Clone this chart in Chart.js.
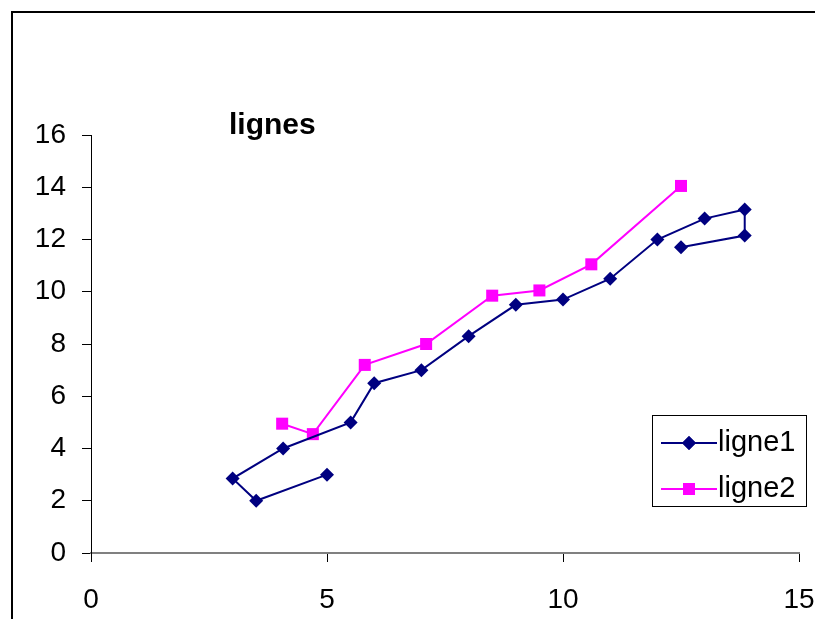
<!DOCTYPE html>
<html>
<head>
<meta charset="utf-8">
<script src="https://cdn.jsdelivr.net/npm/chart.js@4/dist/chart.umd.min.js"></script>
<style>
    html, body { margin: 0; padding: 0; background: #fff; overflow: hidden; }
    #wrap { position: relative; width: 815px; height: 619px; }
    #frame {
        position: absolute; left: 11px; top: 11px; width: 900px; height: 700px;
        border-left: 2px solid #000; border-top: 2px solid #000; box-sizing: border-box;
    }
    #chart { position: absolute; left: 0; top: 0; }
    #title {
        position: absolute; left: 229px; top: 107px;
        font: bold 30px "Liberation Sans", Arial, sans-serif; color: #000;
    }
    #legend {
        position: absolute; left: 652px; top: 415px; width: 155px; height: 92px;
        border: 1px solid #000; box-sizing: border-box; background: #fff;
        font: 29px "Liberation Sans", Arial, sans-serif; color: #000;
    }
    .row { position: absolute; left: 0; height: 30px; width: 100%; }
    .row canvas { position: absolute; left: 6px; top: 0; }
    .row span { position: absolute; left: 65px; top: -2px; line-height: 30px; }
</style>
</head>
<body>
<div id="wrap">
    <div id="frame"></div>
    <canvas id="chart" width="815" height="619"></canvas>
    <div id="title">lignes</div>
    <div id="legend">
        <div class="row" style="top:12px"><canvas id="lg1" width="60" height="30"></canvas><span>ligne1</span></div>
        <div class="row" style="top:58px"><canvas id="lg2" width="60" height="30"></canvas><span>ligne2</span></div>
    </div>
</div>
<script>
// series values
const ligne1X = [5, 3.5, 3, 4.07, 5.5, 6, 7, 8, 9, 10, 11, 12, 13, 13.85, 13.85, 12.5];
const ligne1Y = [3, 2, 2.85, 4, 5, 6.5, 7, 8.3, 9.5, 9.7, 10.5, 12, 12.8, 13.15, 12.15, 11.7];
const ligne2X = [4.05, 4.7, 5.8, 7.1, 8.5, 9.5, 10.6, 12.5];
const ligne2Y = [4.95, 4.55, 7.2, 8, 9.85, 10.05, 11.05, 14.05];

const xTicks = [0, 5, 10, 15];
const yTicks = [0, 2, 4, 6, 8, 10, 12, 14, 16];

const NAVY = '#000080';
const PINK = '#FF00FF';
const FONT = '"Liberation Sans", Arial, sans-serif';

const toPoints = (xs, ys) => xs.map((x, i) => ({ x: x, y: ys[i] }));

new Chart(document.getElementById('chart'), {
    type: 'scatter',
    data: {
        datasets: [
            {
                label: 'ligne1',
                data: toPoints(ligne1X, ligne1Y),
                showLine: true,
                borderColor: NAVY,
                backgroundColor: NAVY,
                borderWidth: 2,
                pointStyle: 'rectRot',
                pointRadius: 7,
                pointBorderWidth: 0,
                tension: 0
            },
            {
                label: 'ligne2',
                data: toPoints(ligne2X, ligne2Y),
                showLine: true,
                borderColor: PINK,
                backgroundColor: PINK,
                borderWidth: 2,
                pointStyle: 'rect',
                pointRadius: 8.5,
                pointBorderWidth: 0,
                tension: 0
            }
        ]
    },
    options: {
        responsive: false,
        animation: false,
        layout: { padding: { top: 135, right: 16, left: 0, bottom: 0 } },
        plugins: {
            legend: { display: false },
            title: { display: false },
            tooltip: { enabled: false }
        },
        scales: {
            x: {
                type: 'linear',
                min: 0, max: 15,
                afterBuildTicks: s => { s.ticks = xTicks.map(v => ({ value: v })); },
                afterFit: s => { s.height = 66; s.paddingLeft = 0; s.paddingRight = 0; },
                ticks: { color: '#000', padding: 21, font: { family: FONT, size: 28 } },
                grid: { drawOnChartArea: false, drawTicks: true, tickLength: 9, color: '#000' },
                border: { color: '#808080', width: 2 }
            },
            y: {
                type: 'linear',
                min: 0, max: 16,
                afterBuildTicks: s => { s.ticks = yTicks.map(v => ({ value: v })); },
                afterFit: s => { s.width = 91; s.paddingTop = 0; s.paddingBottom = 0; },
                ticks: { color: '#000', padding: 16, font: { family: FONT, size: 28 } },
                grid: { drawOnChartArea: false, drawTicks: true, tickLength: 9, color: '#000' },
                border: { color: '#000', width: 1 }
            }
        }
    }
});

// legend samples
function drawSample(id, color, style) {
    const ctx = document.getElementById(id).getContext('2d');
    ctx.strokeStyle = color;
    ctx.lineWidth = 2;
    ctx.beginPath();
    ctx.moveTo(2, 15);
    ctx.lineTo(58, 15);
    ctx.stroke();
    ctx.fillStyle = color;
    Chart.helpers.drawPoint(ctx, { pointStyle: style, radius: style === 'rect' ? 8.5 : 7, rotation: 0, borderWidth: 0 }, 30, 15);
    ctx.fill();
}
drawSample('lg1', NAVY, 'rectRot');
drawSample('lg2', PINK, 'rect');
</script>
</body>
</html>
